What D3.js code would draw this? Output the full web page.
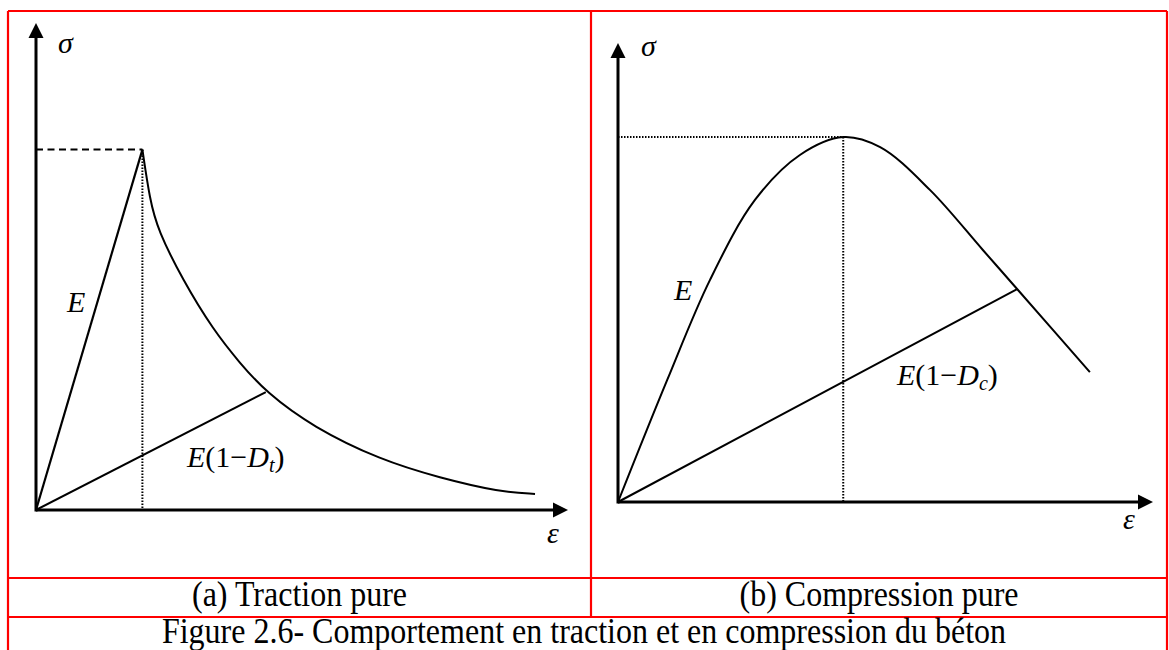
<!DOCTYPE html>
<html>
<head>
<meta charset="utf-8">
<script src="https://cdn.jsdelivr.net/npm/d3@7"></script>
<style>
  html, body { margin: 0; padding: 0; background: #fff; }
  svg { display: block; }
  text { font-family: "Liberation Serif", "Times New Roman", serif; fill: #000; }
</style>
</head>
<body>
<svg id="fig" width="1169" height="650"></svg>
<script>
// Tension: softening branch after the peak (strain, stress in relative units)
const tensionStrain = [20, 21.4, 22.9, 27.6, 33.3, 38.3, 43.2, 52.1, 64.7, 75.9, 87.2, 93.8];
const tensionStress = [74, 63.7, 57.5, 47.2, 37.0, 30.2, 24.2, 17.0, 10.3, 6.6, 3.7, 3.3];
const tensionUnloadIndex = 6;   // point where the damaged unloading line meets the curve

// Compression: full curve from the origin through the peak
const compressionStrain = [0, 9.2, 17.2, 25.6, 34.0, 42.1, 49.0, 58.3, 68.2, 74.6, 88.2];
const compressionStress = [0, 26.6, 48.4, 65.8, 75.6, 79.5, 77.3, 68.0, 54.9, 46.4, 28.3];
const compressionPeakIndex = 5;
const compressionUnloadIndex = 9;

const panelCaptions = ["(a) Traction pure", "(b) Compression pure"];
const figureTitle = "Figure 2.6- Comportement en traction et en compression du béton";

const svg = d3.select("#fig");

// ---- table frame ----
const frame = svg.append("g").attr("stroke", "#ff0000").attr("stroke-width", 2.2).attr("fill", "none");
const fx0 = 8, fx1 = 1167, fxm = 591, fy0 = 11, fyA = 578, fyB = 617, fy1 = 651;
frame.append("line").attr("x1", fx0).attr("y1", fy0).attr("x2", fx1).attr("y2", fy0);
frame.append("line").attr("x1", fx0).attr("y1", fy0).attr("x2", fx0).attr("y2", fy1);
frame.append("line").attr("x1", fx1).attr("y1", fy0).attr("x2", fx1).attr("y2", fy1);
frame.append("line").attr("x1", fxm).attr("y1", fy0).attr("x2", fxm).attr("y2", fyB);
frame.append("line").attr("x1", fx0).attr("y1", fyA).attr("x2", fx1).attr("y2", fyA);
frame.append("line").attr("x1", fx0).attr("y1", fyB).attr("x2", fx1).attr("y2", fyB);

// ---- captions (slightly tall typeface) ----
function caption(txt, cx, by) {
  svg.append("text").attr("transform", `translate(${cx},${by}) scale(1,1.09)`)
    .attr("text-anchor", "middle").attr("font-size", 32).text(txt);
}
caption(panelCaptions[0], (fx0 + fxm) / 2, 606);
caption(panelCaptions[1], (fxm + fx1) / 2, 606);
caption(figureTitle, 584, 643);

// ---- helpers ----
function drawAxes(g, x, y) {
  const ox = x(0), oy = y(0), tx = x(100), ty = y(100);
  const ah = 15, aw = 7.5;
  g.append("line").attr("x1", ox).attr("y1", oy).attr("x2", tx - ah + 1).attr("y2", oy)
    .attr("stroke", "#000").attr("stroke-width", 3);
  g.append("line").attr("x1", ox).attr("y1", oy + 1.5).attr("x2", ox).attr("y2", ty + ah - 1)
    .attr("stroke", "#000").attr("stroke-width", 3);
  g.append("path").attr("d", `M${tx},${oy}L${tx - ah},${oy - aw}L${tx - ah},${oy + aw}Z`).attr("fill", "#000");
  g.append("path").attr("d", `M${ox},${ty}L${ox - aw},${ty + ah}L${ox + aw},${ty + ah}Z`).attr("fill", "#000");
}

function italicLabel(g, txt, px, py, size) {
  g.append("text").attr("x", px).attr("y", py).attr("font-size", size)
    .attr("font-style", "italic").text(txt);
}

function damageLabel(g, px, py, sub) {
  const t = g.append("text").attr("x", px).attr("y", py).attr("font-size", 30);
  t.append("tspan").attr("font-style", "italic").text("E");
  t.append("tspan").text("(1\u2212");
  t.append("tspan").attr("font-style", "italic").text("D");
  t.append("tspan").attr("font-style", "italic").attr("font-size", 20).attr("dy", 5).text(sub);
  t.append("tspan").attr("dy", -5).text(")");
}

const line = (x, y) => d3.line().x(d => x(d[0])).y(d => y(d[1]));
const dotted = "1.5,1.5";

// ---- (a) tension ----
{
  const x = d3.scaleLinear().domain([0, 100]).range([36, 568]);
  const y = d3.scaleLinear().domain([0, 100]).range([510, 23]);
  const g = svg.append("g");
  const pk = [tensionStrain[0], tensionStress[0]];
  const un = [tensionStrain[tensionUnloadIndex], tensionStress[tensionUnloadIndex]];

  // peak guide lines
  g.append("line").attr("x1", x(0)).attr("y1", y(pk[1])).attr("x2", x(pk[0])).attr("y2", y(pk[1]))
    .attr("stroke", "#000").attr("stroke-width", 2).attr("stroke-dasharray", "7,4.5");
  g.append("line").attr("x1", x(pk[0])).attr("y1", y(pk[1])).attr("x2", x(pk[0])).attr("y2", y(0))
    .attr("stroke", "#000").attr("stroke-width", 2).attr("stroke-dasharray", dotted);

  drawAxes(g, x, y);

  // elastic branch, damaged unloading line, softening curve
  g.append("path").attr("d", line(x, y)([[0, 0], pk])).attr("fill", "none").attr("stroke", "#000").attr("stroke-width", 2.2);
  g.append("path").attr("d", line(x, y)([[0, 0], un])).attr("fill", "none").attr("stroke", "#000").attr("stroke-width", 2);
  const soft = tensionStrain.map((s, i) => [s, tensionStress[i]]);
  g.append("path").attr("d", line(x, y).curve(d3.curveBasis)(soft))
    .attr("fill", "none").attr("stroke", "#000").attr("stroke-width", 2);

  italicLabel(g, "\u03c3", 58, 53, 30);
  italicLabel(g, "\u03b5", 547, 543, 30);
  italicLabel(g, "E", 67, 312, 30);
  damageLabel(g, 187, 467, "t");
}

// ---- (b) compression ----
{
  const x = d3.scaleLinear().domain([0, 100]).range([618, 1153]);
  const y = d3.scaleLinear().domain([0, 100]).range([502, 43]);
  const g = svg.append("g");
  const pk = [compressionStrain[compressionPeakIndex], compressionStress[compressionPeakIndex]];
  const un = [compressionStrain[compressionUnloadIndex], compressionStress[compressionUnloadIndex]];

  g.append("line").attr("x1", x(0)).attr("y1", y(pk[1])).attr("x2", x(pk[0])).attr("y2", y(pk[1]))
    .attr("stroke", "#000").attr("stroke-width", 2).attr("stroke-dasharray", dotted);
  g.append("line").attr("x1", x(pk[0])).attr("y1", y(pk[1])).attr("x2", x(pk[0])).attr("y2", y(0))
    .attr("stroke", "#000").attr("stroke-width", 2).attr("stroke-dasharray", dotted);

  drawAxes(g, x, y);

  g.append("path").attr("d", line(x, y)([[0, 0], un])).attr("fill", "none").attr("stroke", "#000").attr("stroke-width", 2);
  const curve = compressionStrain.map((s, i) => [s, compressionStress[i]]);
  g.append("path").attr("d", line(x, y).curve(d3.curveCatmullRom.alpha(0.5))(curve))
    .attr("fill", "none").attr("stroke", "#000").attr("stroke-width", 2);

  italicLabel(g, "\u03c3", 641, 56, 30);
  italicLabel(g, "\u03b5", 1123, 529, 30);
  italicLabel(g, "E", 674, 300, 30);
  damageLabel(g, 897, 385, "c");
}
</script>
</body>
</html>
